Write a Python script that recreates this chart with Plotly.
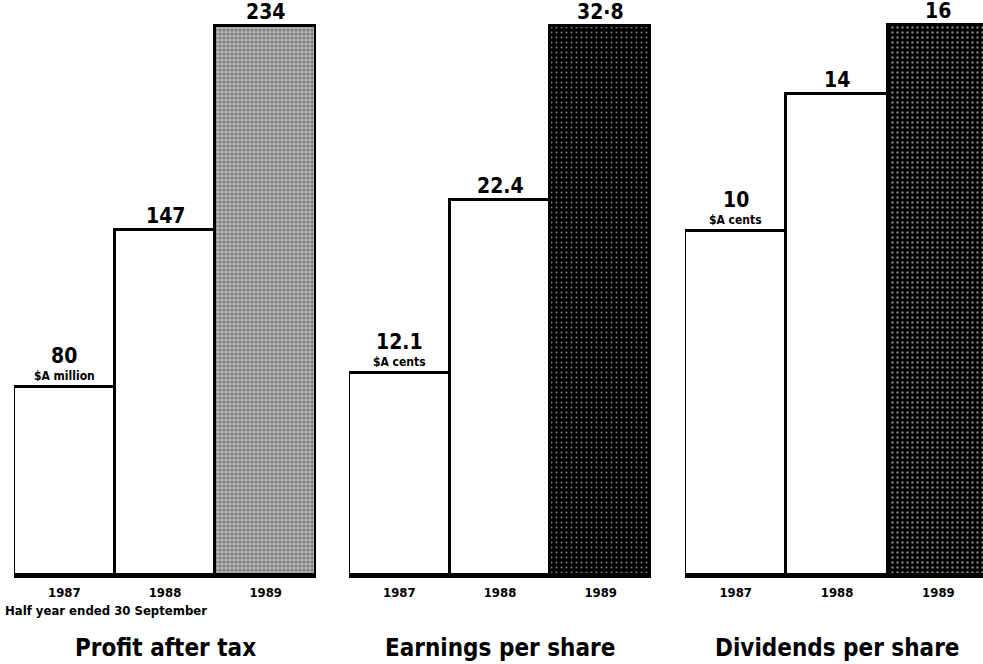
import plotly.graph_objects as go

# Half-year results, three measures
years = ["1987", "1988", "1989"]

profit_values = [80, 147, 234]
profit_labels = ["80", "147", "234"]

eps_values = [12.1, 22.4, 32.8]
eps_labels = ["12.1", "22.4", "32·8"]

dps_values = [10, 14, 16]
dps_labels = ["10", "14", "16"]

panel_titles = ["Profit after tax", "Earnings per share", "Dividends per share"]
unit_labels = ["$A million", "$A cents", "$A cents"]
footnote = "Half year ended 30 September"

W, H = 983, 664
NARROW = "Liberation Sans Narrow, DejaVu Sans Condensed, Arial Narrow, sans-serif"
HEAVY = "DejaVu Sans Condensed, Liberation Sans Narrow, sans-serif"

panels = [
    dict(values=profit_values, labels=profit_labels, x0=14, x1=316, xr=[-0.5, 2.5], ymax=245.2,
         pat=dict(bg="#b4b4b4", fg="black", size=4, solidity=0.5)),
    dict(values=eps_values, labels=eps_labels, x0=349, x1=651, xr=[-0.5, 2.5], ymax=34.37,
         pat=dict(bg="black", fg="white", size=5, solidity=0.12)),
    dict(values=dps_values, labels=dps_labels, x0=685, x1=983, xr=[-0.5, 2.44], ymax=16.72,
         pat=dict(bg="black", fg="white", size=5, solidity=0.18)),
]

fig = go.Figure()
annotations = []
baseline_px = 575
ydom = [(H - baseline_px) / H, 1.0]

for i, p in enumerate(panels):
    n = i + 1
    xa = "x" if n == 1 else f"x{n}"
    ya = "y" if n == 1 else f"y{n}"
    pat = p["pat"]
    fig.add_trace(go.Bar(
        x=[0, 1, 2], y=p["values"], width=1,
        xaxis=xa, yaxis=ya,
        marker=dict(
            color=["white", "white", pat["bg"]],
            line=dict(color="black", width=3),
            pattern=dict(
                shape=["", "", "."],
                fgcolor=["black", "black", pat["fg"]],
                size=pat["size"],
                solidity=pat["solidity"],
                fillmode="overlay",
            ),
        ),
        showlegend=False, hoverinfo="skip",
    ))
    fig.update_layout(**{
        ("xaxis" if n == 1 else f"xaxis{n}"): dict(
            domain=[p["x0"] / W, p["x1"] / W], range=p["xr"],
            tickvals=[0, 1, 2], ticktext=years, ticks="",
            tickfont=dict(family=NARROW, size=13, color="black", weight="bold"),
            ticklabelstandoff=3,
            showline=True, linecolor="black", linewidth=3,
            showgrid=False, zeroline=False, fixedrange=True, anchor=ya,
        ),
        ("yaxis" if n == 1 else f"yaxis{n}"): dict(
            domain=ydom, range=[0, p["ymax"]], visible=False,
            showgrid=False, zeroline=False, fixedrange=True, anchor=xa,
        ),
    })
    # value labels above each bar; the first bar also carries the unit
    for j, (v, lab) in enumerate(zip(p["values"], p["labels"])):
        annotations.append(dict(
            x=j, y=v, xref=xa, yref=ya, text=lab, showarrow=False,
            xanchor="center", yanchor="bottom", yshift=(17 if j == 0 else 0),
            font=dict(family=NARROW, size=21, color="black", weight="bold"),
        ))
    annotations.append(dict(
        x=0, y=p["values"][0], xref=xa, yref=ya, text=unit_labels[i], showarrow=False,
        xanchor="center", yanchor="bottom", yshift=2,
        font=dict(family=NARROW, size=12, color="black", weight="bold"),
    ))
    annotations.append(dict(
        x=1, y=(H - 648) / H, xref=xa, yref="paper", text=panel_titles[i], showarrow=False,
        xanchor="center", yanchor="middle",
        font=dict(family=HEAVY, size=24, color="black", weight="bold"),
    ))

annotations.append(dict(
    x=3 / W, y=(H - 610) / H, xref="paper", yref="paper", text=footnote, showarrow=False,
    xanchor="left", yanchor="middle",
    font=dict(family=NARROW, size=13, color="black", weight="bold"),
))

fig.update_layout(
    width=W, height=H,
    margin=dict(l=0, r=0, t=0, b=0),
    paper_bgcolor="white", plot_bgcolor="white",
    bargap=0,
    annotations=annotations,
)

fig.write_html("out.html")
